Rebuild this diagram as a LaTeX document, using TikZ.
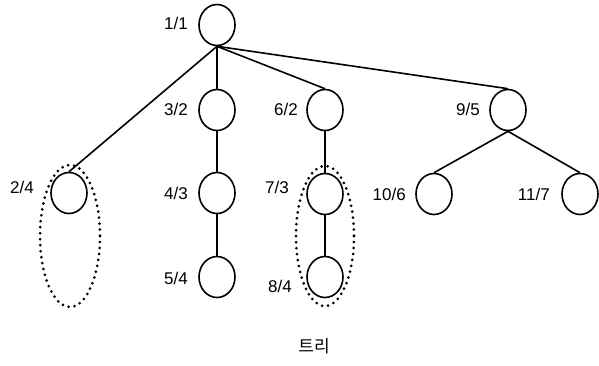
\documentclass[tikz,border=0pt]{standalone}
\usepackage{fontspec}
\setmainfont{Liberation Sans}
\newfontfamily\korfont{Noto Sans CJK KR}
\usetikzlibrary{shapes.geometric}

\begin{document}
\begin{tikzpicture}[x=1pt,y=-1pt,
    vtx/.style={draw,ellipse,line width=1.6pt,minimum width=36pt,minimum height=41pt,inner sep=0pt},
    tag/.style={font=\fontsize{17}{19}\selectfont,inner sep=0pt},
    link/.style={line width=1.6pt},
    group/.style={line width=3pt,line cap=round,dash pattern=on 0pt off 6pt}]
    \useasboundingbox (0,0) rectangle (599,365);
    % nodes of the tree
    \node[vtx] (n1) at (217,25) {};
    \node[vtx] (n2) at (69,193) {};
    \node[vtx] (n3) at (217,110) {};
    \node[vtx] (n4) at (217,193) {};
    \node[vtx] (n5) at (217,277) {};
    \node[vtx] (n6) at (325,110) {};
    \node[vtx] (n7) at (325,194) {};
    \node[vtx] (n8) at (325,277) {};
    \node[vtx] (n9) at (508,110) {};
    \node[vtx] (n10) at (434,194) {};
    \node[vtx] (n11) at (580,194) {};
    % labels
    \node[tag,anchor=east] (t1) at (188,23) {1/1};
    \node[tag,anchor=east] (t2) at (34,187) {2/4};
    \node[tag,anchor=east] (t3) at (188,109) {3/2};
    \node[tag,anchor=east] (t4) at (188,193) {4/3};
    \node[tag,anchor=east] (t5) at (188,278) {5/4};
    \node[tag,anchor=east] (t6) at (298,109) {6/2};
    \node[tag,anchor=east] (t7) at (289,187) {7/3};
    \node[tag,anchor=east] (t8) at (292,286) {8/4};
    \node[tag,anchor=east] (t9) at (480,109) {9/5};
    \node[tag,anchor=east] (t10) at (406,194) {10/6};
    \node[tag,anchor=east] (t11) at (550,194) {11/7};
    % edges
    \draw[link] (n1.south) -- (n2.north);
    \draw[link] (n1.south) -- (n3.north);
    \draw[link] (n1.south) -- (n6.north);
    \draw[link] (n1.south) -- (n9.north);
    \draw[link] (n3.south) -- (n4.north);
    \draw[link] (n4.south) -- (n5.north);
    \draw[link] (n6.south) -- (n7.north);
    \draw[link] (n7.south) -- (n8.north);
    \draw[link] (n9.south) -- (n10.north);
    \draw[link] (n9.south) -- (n11.north);
    % dotted groups
    \draw[group] (70,236) ellipse (30 and 71);
    \draw[group] (325,236) ellipse (29 and 70);
    \node[font=\korfont\fontsize{17}{19}\selectfont] (cap) at (314,346) {트리};
\end{tikzpicture}
\end{document}
